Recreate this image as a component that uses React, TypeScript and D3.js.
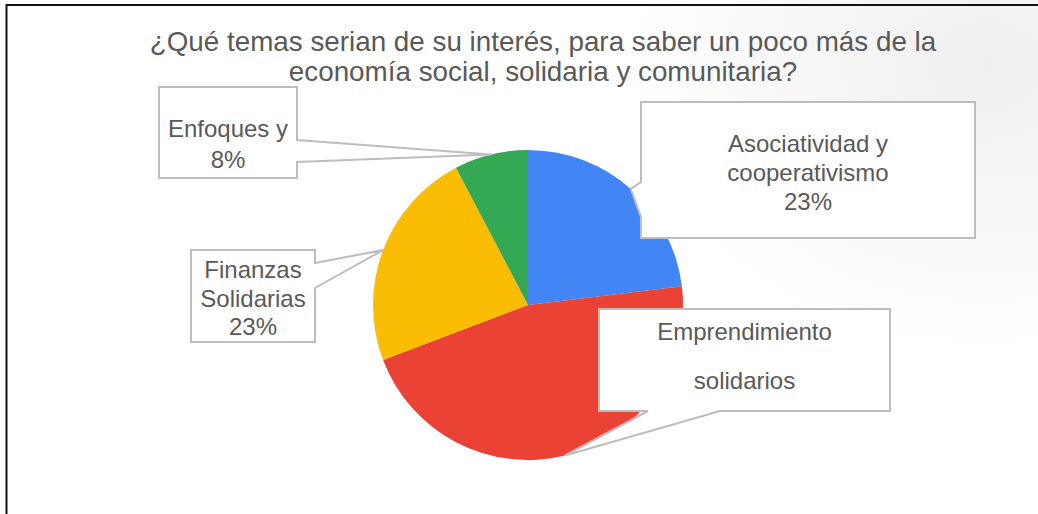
import React from "react";
import * as d3 from "d3";

const titleLines = [
  "¿Qué temas serian de su interés, para saber un poco más de la",
  "economía social, solidaria y comunitaria?",
];
const categories = [
  "Asociatividad y cooperativismo",
  "Emprendimiento solidarios",
  "Finanzas Solidarias",
  "Enfoques y",
];
const values = [3, 6, 3, 1];
const colors = ["#4285f4", "#ea4335", "#fbbc04", "#34a853"];
// text shown in each callout (Emprendimiento has no percent in the original)
const labelLines = [
  ["Asociatividad y", "cooperativismo", "{p}"],
  ["Emprendimiento", "solidarios"],
  ["Finanzas", "Solidarias", "{p}"],
  ["Enfoques y", "{p}"],
];

// callout boxes: rectangle, the side the pointer leaves from, and where on that side
const callouts = [
  { x: 641, y: 102, w: 334, h: 136, side: "left", a: 182, b: 217, base: 152, gap: 29 },
  { x: 599, y: 309, w: 291, h: 102, side: "bottom", a: 648, b: 720, base: 340, gap: 49 },
  { x: 191, y: 250, w: 124, h: 92, side: "right", a: 263, b: 288, base: 278, gap: 28.5 },
  { x: 159, y: 87, w: 138, h: 91, side: "right", a: 140, b: 162, base: 137, gap: 31 },
];

const W = 1038;
const H = 514;
const cx = 528;
const cy = 305;
const r = 155;
const font = "'Liberation Sans', Arial, sans-serif";
const textColor = "#595959";

const calloutPath = (c, tip) => {
  const { x, y, w, h, side, a, b } = c;
  const x2 = x + w;
  const y2 = y + h;
  const p = d3.path();
  p.moveTo(x, y);
  p.lineTo(x2, y);
  if (side === "right") {
    p.lineTo(x2, a);
    p.lineTo(tip[0], tip[1]);
    p.lineTo(x2, b);
  }
  p.lineTo(x2, y2);
  if (side === "bottom") {
    p.lineTo(b, y2);
    p.lineTo(tip[0], tip[1]);
    p.lineTo(a, y2);
  }
  p.lineTo(x, y2);
  if (side === "left") {
    p.lineTo(x, b);
    p.lineTo(tip[0], tip[1]);
    p.lineTo(x, a);
  }
  p.closePath();
  return p.toString();
};

const App = () => {
  const total = d3.sum(values);
  const pct = d3.format(".0%");
  const arcs = d3.pie<number>().sort(null).startAngle(0).endAngle(2 * Math.PI)(values);
  const arc = d3.arc<d3.PieArcDatum<number>>().innerRadius(0).outerRadius(r);
  const edge = d3.arc<d3.PieArcDatum<number>>().innerRadius(r).outerRadius(r);

  return (
    <svg
      width={W}
      height={H}
      style={{ position: "absolute", left: 0, top: 0, background: "#fff" }}
    >
      <defs>
        <radialGradient id="bg" cx="0.95" cy="0.08" r="0.35" gradientTransform="scale(1,1.6)">
          <stop offset="0" stopColor="#efefef" />
          <stop offset="1" stopColor="#ffffff" />
        </radialGradient>
      </defs>
      <rect x={0} y={0} width={W} height={H} fill="url(#bg)" />
      <rect x={6.5} y={5} width={W + 20} height={H + 20} fill="none" stroke="#111" strokeWidth={2} />

      {titleLines.map((t, i) => (
        <text
          key={t}
          x={543}
          y={51 + i * 30}
          textAnchor="middle"
          fontFamily={font}
          fontSize={27.8}
          fill={textColor}
        >
          {t}
        </text>
      ))}

      <g transform={`translate(${cx},${cy})`}>
        {arcs.map((d, i) => (
          <path key={categories[i]} d={arc(d) || ""} fill={colors[i]} />
        ))}
      </g>

      {arcs.map((d, i) => {
        const c = callouts[i];
        const [tx, ty] = edge.centroid(d);
        const tip: [number, number] = [cx + tx, cy + ty];
        const mid = c.x + c.w / 2;
        return (
          <g key={`callout-${i}`}>
            <path d={calloutPath(c, tip)} fill="#fff" stroke="#bdbdbd" strokeWidth={2} strokeLinejoin="miter" />
            {labelLines[i].map((ln, j) => (
              <text
                key={j}
                x={mid}
                y={c.base + j * c.gap}
                textAnchor="middle"
                fontFamily={font}
                fontSize={24}
                fill={textColor}
              >
                {ln.replace("{p}", pct(d.data / total))}
              </text>
            ))}
          </g>
        );
      })}
    </svg>
  );
};

export default App;
